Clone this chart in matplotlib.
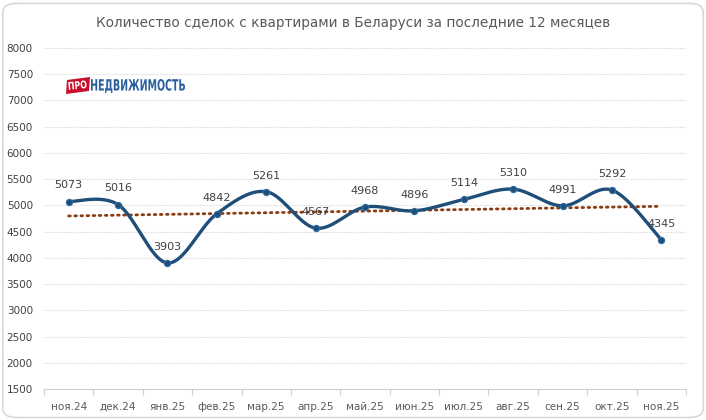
import matplotlib
matplotlib.use("Agg")
import matplotlib.pyplot as plt
import matplotlib.patches as patches
from matplotlib.textpath import TextPath
from matplotlib.font_manager import FontProperties
from matplotlib.transforms import Affine2D
import numpy as np

months = ["ноя.24", "дек.24", "янв.25", "фев.25", "мар.25", "апр.25", "май.25",
          "июн.25", "июл.25", "авг.25", "сен.25", "окт.25", "ноя.25"]
deals = [5073, 5016, 3903, 4842, 5261, 4567, 4968, 4896, 5114, 5310, 4991, 5292, 4345]
y_ticks = list(range(1500, 8001, 500))

LINE = "#1f4e79"
TREND = "#8b3d12"
TEXT = "#404040"
W, H = 706, 420


def smooth(xs, ys, steps=30, tension=0.5):
    # catmull-rom style curve, close to Excel's "smoothed line"
    xs = np.asarray(xs, float)
    ys = np.asarray(ys, float)
    px = np.concatenate([[xs[0]], xs, [xs[-1]]])
    py = np.concatenate([[ys[0]], ys, [ys[-1]]])
    out_x, out_y = [], []
    t = np.linspace(0, 1, steps)
    for i in range(1, len(px) - 2):
        m1x = tension * (px[i + 1] - px[i - 1])
        m1y = tension * (py[i + 1] - py[i - 1])
        m2x = tension * (px[i + 2] - px[i])
        m2y = tension * (py[i + 2] - py[i])
        h00 = 2 * t**3 - 3 * t**2 + 1
        h10 = t**3 - 2 * t**2 + t
        h01 = -2 * t**3 + 3 * t**2
        h11 = t**3 - t**2
        out_x.extend(h00 * px[i] + h10 * m1x + h01 * px[i + 1] + h11 * m2x)
        out_y.extend(h00 * py[i] + h10 * m1y + h01 * py[i + 1] + h11 * m2y)
    return np.array(out_x), np.array(out_y)


def fitted_text(fig, text, box, color, weight="bold", rot=0.0):
    # box in image pixels (x0, y0_top, x1, y1_bottom); text squeezed to fit it
    path = TextPath((0, 0), text, size=20, prop=FontProperties(family="DejaVu Sans", weight=weight))
    ext = path.get_extents()
    x0, yt, x1, yb = box
    sx = (x1 - x0) / ext.width
    sy = (yb - yt) / ext.height
    tr = (Affine2D().translate(-ext.x0, -ext.y0).scale(sx, sy)
          .rotate_deg_around(0, 0, rot).translate(x0, H - yb))
    fig.add_artist(patches.PathPatch(path, transform=tr, fc=color, ec="none", zorder=10))


fig = plt.figure(figsize=(W / 100, H / 100), dpi=100)
ax = fig.add_axes([0.0623, 0.0738, 0.9094, 0.8119])

x = np.arange(len(months))
sx, sy = smooth(x, deals)
ax.plot(sx, sy, color=LINE, lw=2.4, solid_capstyle="round", zorder=3)
ax.plot(x, deals, "o", color=LINE, ms=4.5, mec="#2e6da4", mew=0.8, zorder=4)

k, b = np.polyfit(x, deals, 1)
ax.plot(x, k * x + b, color=TREND, lw=2, ls=(0, (0.6, 1.6)),
        dash_capstyle="round", zorder=2)

for xi, v in zip(x, deals):
    ax.annotate(str(v), (xi, v), xytext=(0, 8), textcoords="offset points",
                ha="center", va="bottom", fontsize=8, color=TEXT, zorder=5)

ax.set_xlim(-0.5, len(months) - 0.5)
ax.set_ylim(1500, 8000)
ax.set_yticks(y_ticks)
ax.set_yticklabels([str(v) for v in y_ticks], fontsize=7.5, color=TEXT)
ax.set_xticks(x)
ax.set_xticklabels(months, fontsize=7.5, color="#595959")
ax.tick_params(axis="x", length=0, pad=9)
ax.tick_params(axis="y", length=0, pad=8)
ax.set_xticks(np.arange(-0.5, len(months), 1), minor=True)
ax.tick_params(axis="x", which="minor", length=4, color="#d0d0d0", width=0.8)
ax.grid(axis="y", color="#d9d9d9", lw=0.8, ls=(0, (1, 1)))
for s in ["top", "right", "left"]:
    ax.spines[s].set_visible(False)
ax.spines["bottom"].set_color("#d0d0d0")
ax.spines["bottom"].set_linewidth(0.8)
ax.set_axisbelow(True)

fig.text(0.5, 0.945, "Количество сделок с квартирами в Беларуси за последние 12 месяцев",
         ha="center", va="center", fontsize=9.8, color="#595959")

# logo: red tilted tag with "ПРО" + condensed blue word
tag = patches.Polygon([(66, H - 94), (89, H - 91), (90, H - 77), (67, H - 80)],
                      closed=True, transform=None, fc="#c8102e", ec="none", zorder=9)
fig.add_artist(tag)
fitted_text(fig, "ПРО", (69, 82, 87, 90), "white", rot=6)
fitted_text(fig, "НЕДВИЖИМОСТЬ", (91, 79, 185, 93), "#2a5fa0")

border = patches.FancyBboxPatch((0.004, 0.006), 0.992, 0.986,
                                boxstyle="round,pad=0,rounding_size=0.02",
                                transform=fig.transFigure, fc="none", ec="#d9d9d9",
                                lw=1.2, zorder=0)
fig.patches.append(border)

fig.savefig("out.png", dpi=100, facecolor="white")
